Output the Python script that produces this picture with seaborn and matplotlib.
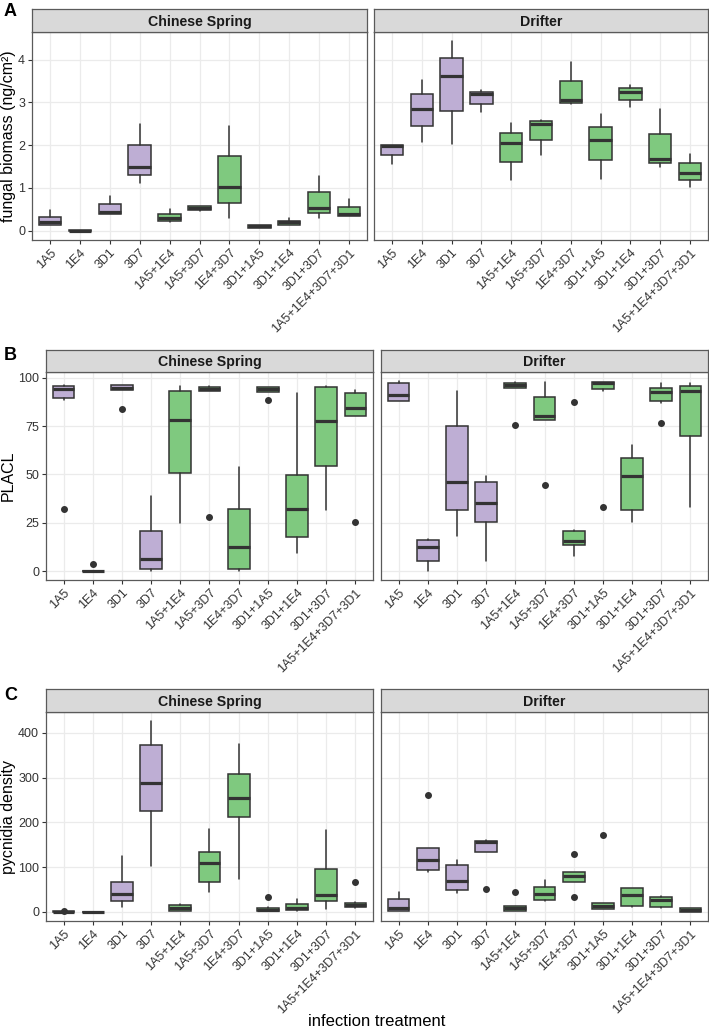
import matplotlib
matplotlib.use("Agg")
import matplotlib.pyplot as plt
import matplotlib.transforms as mtransforms
import seaborn as sns

sns.set_theme(style="whitegrid")
plt.rcParams['font.family'] = ['Liberation Sans', 'DejaVu Sans']

# treatments on the x axis
treatments = ["1A5", "1E4", "3D1", "3D7", "1A5+1E4", "1A5+3D7", "1E4+3D7",
              "3D1+1A5", "3D1+1E4", "3D1+3D7", "1A5+1E4+3D7+3D1"]
cultivars = ["Chinese Spring", "Drifter"]
n_single = 4  # first four are single isolates

# box summaries: (whisker low, q1, median, q3, whisker high)
biomass_cs = [(0.13, 0.14, 0.19, 0.33, 0.49), (0.0, 0.0, 0.0, 0.01, 0.01),
              (0.39, 0.40, 0.43, 0.62, 0.80), (1.11, 1.30, 1.50, 2.00, 2.50),
              (0.20, 0.23, 0.30, 0.40, 0.51), (0.46, 0.49, 0.53, 0.57, 0.58),
              (0.29, 0.65, 1.01, 1.74, 2.44), (0.07, 0.07, 0.10, 0.13, 0.14),
              (0.14, 0.14, 0.19, 0.23, 0.29), (0.30, 0.41, 0.52, 0.90, 1.27),
              (0.34, 0.35, 0.39, 0.56, 0.75)]
biomass_cs_out = [[] for _ in treatments]
biomass_dr = [(1.55, 1.76, 1.97, 2.00, 2.00), (2.08, 2.46, 2.85, 3.19, 3.53),
              (2.02, 2.80, 3.61, 4.03, 4.45), (2.77, 2.97, 3.19, 3.24, 3.30),
              (1.18, 1.61, 2.05, 2.29, 2.52), (1.77, 2.12, 2.50, 2.56, 2.60),
              (2.96, 2.99, 3.05, 3.50, 3.94), (1.21, 1.65, 2.13, 2.43, 2.72),
              (2.89, 3.06, 3.24, 3.34, 3.42), (1.50, 1.58, 1.68, 2.27, 2.85),
              (1.02, 1.19, 1.36, 1.59, 1.80)]
biomass_dr_out = [[] for _ in treatments]

placl_cs = [(88.5, 89.5, 94.3, 95.7, 96.2), (0.0, 0.0, 0.0, 0.3, 0.3),
            (93.4, 93.5, 94.7, 96.0, 96.2), (0.3, 1.0, 6.2, 20.8, 39.0),
            (25.1, 50.6, 78.0, 93.3, 95.7), (93.1, 93.3, 94.3, 95.3, 95.5),
            (0.3, 1.4, 12.7, 32.4, 53.7), (92.4, 92.6, 94.0, 95.0, 95.0),
            (9.6, 17.6, 32.2, 49.6, 92.3), (31.5, 54.2, 77.8, 95.3, 95.5),
            (80.0, 80.4, 84.2, 92.3, 93.6)]
placl_cs_out = [[32.2], [3.6], [84.0], [], [], [28.2], [], [88.6], [], [], [25.5]]
placl_dr = [(88.0, 88.0, 91.2, 97.1, 98.3), (0.2, 5.2, 12.6, 16.4, 16.5),
            (18.4, 31.8, 46.0, 74.9, 93.0), (5.2, 25.6, 35.5, 46.0, 49.2),
            (94.7, 94.7, 96.0, 97.1, 97.6), (78.0, 78.3, 80.4, 89.8, 97.6),
            (8.1, 13.8, 15.8, 20.8, 21.5), (93.3, 94.0, 97.1, 97.5, 97.6),
            (25.5, 31.5, 49.2, 58.5, 65.1), (86.7, 87.8, 92.6, 94.8, 97.1),
            (33.4, 70.1, 93.3, 95.9, 97.1)]
placl_dr_out = [[], [], [], [], [75.4], [44.6], [87.4], [33.2], [], [76.4], []]

pycnidia_cs = [(0.0, 0.0, 0.3, 1.0, 1.0), (0.0, 0.0, 0.0, 0.2, 0.2),
               (11.2, 23.1, 39.5, 65.5, 124.4), (103, 225, 288, 374, 426),
               (1.5, 1.5, 7.4, 14.9, 17.9), (44.7, 65.5, 108, 132.6, 184.7),
               (73, 211.5, 255.5, 309, 374.7), (0.7, 0.7, 3.0, 8.9, 9.7),
               (2.2, 4.5, 8.9, 16.4, 29), (6.7, 24.6, 37.2, 96, 182.5),
               (7.4, 11.2, 15.6, 19.4, 21.6)]
pycnidia_cs_out = [[1.5], [], [], [], [], [], [], [32.8], [], [], [65.5]]
pycnidia_dr = [(2.2, 2.2, 8.2, 28.3, 43.2), (87.9, 93.9, 115.5, 143, 143),
               (42.5, 47.7, 67.8, 105, 114.7), (133.3, 133.3, 156.4, 158.7, 159.6),
               (1.5, 1.5, 7.4, 13.4, 13.4), (24.6, 26.1, 38.7, 55.1, 70),
               (65.5, 65.5, 80.4, 87.9, 87.9), (5.2, 5.2, 13.4, 20.1, 20.1),
               (10.4, 13.4, 38, 52.9, 52.9), (8.9, 10.4, 25.3, 33.5, 35),
               (0.0, 0.0, 3.7, 7.4, 7.4)]
pycnidia_dr_out = [[], [261.5], [], [49.9], [44.7], [], [128.9, 32], [172], [], [], []]

purple = "#BEAED4"
green = "#7FC97F"
dark = "#333333"
border = "#5A5A5A"

W, H = 709, 1030
fig = plt.figure(figsize=(W / 100, H / 100), dpi=100)


def px_axes(x0, y0, x1, y1):
    return fig.add_axes([x0 / W, 1 - y1 / H, (x1 - x0) / W, (y1 - y0) / H])


def draw_panel(x0, x1, ytop, ybot, strip_top, stats, outs, ylim, yticks, title, first):
    ax = px_axes(x0, ytop, x1, ybot)
    boxes = []
    for i, (lo, q1, med, q3, hi) in enumerate(stats):
        boxes.append(dict(whislo=lo, q1=q1, med=med, q3=q3, whishi=hi,
                          fliers=outs[i], label=treatments[i]))
    art = ax.bxp(boxes, positions=list(range(len(boxes))), widths=0.75,
                 patch_artist=True, showcaps=False,
                 boxprops=dict(edgecolor=dark, linewidth=1.1),
                 whiskerprops=dict(color=dark, linewidth=1.1),
                 medianprops=dict(color=dark, linewidth=2.3, solid_capstyle="butt"),
                 flierprops=dict(marker="o", markerfacecolor=dark,
                                 markeredgecolor=dark, markersize=4))
    for i, patch in enumerate(art["boxes"]):
        patch.set_facecolor(purple if i < n_single else green)
        patch.set_zorder(2)
    ax.set_xlim(-0.6, len(treatments) - 0.4)
    ax.set_ylim(*ylim)
    ax.set_yticks(yticks)
    ax.set_xticks(range(len(treatments)))
    ax.set_xticklabels(treatments, rotation=45, ha="right", va="top",
                       rotation_mode="anchor", fontsize=9, color=dark)
    shift = mtransforms.ScaledTranslation(5 / 100, -1 / 100, fig.dpi_scale_trans)
    for lab in ax.get_xticklabels():
        lab.set_transform(lab.get_transform() + shift)
    ax.grid(True, color="#EBEBEB", linewidth=0.9)
    ax.set_axisbelow(True)
    ax.set_facecolor("white")
    for s in ax.spines.values():
        s.set_visible(True)
        s.set_color(border)
        s.set_linewidth(0.9)
    ax.tick_params(axis="x", bottom=True, length=3, width=0.8, color=dark, pad=2)
    if first:
        ax.tick_params(axis="y", left=True, length=3, width=0.8, color=dark,
                       labelsize=9, labelcolor=dark, pad=2)
    else:
        ax.tick_params(axis="y", left=False, labelleft=False)
    ax.set_xlabel("")
    ax.set_ylabel("")

    st = px_axes(x0, strip_top, x1, ytop)
    st.set_facecolor("#D9D9D9")
    st.set_xticks([])
    st.set_yticks([])
    st.grid(False)
    for s in st.spines.values():
        s.set_visible(True)
        s.set_color(border)
        s.set_linewidth(0.9)
    st.text(0.5, 0.45, title, ha="center", va="center", fontsize=10.2,
            fontweight="bold", color="#1A1A1A", transform=st.transAxes)
    return ax


rows = [
    dict(xs=[(32, 367), (374, 708)], ytop=32, ybot=240, strip=9,
         data=[(biomass_cs, biomass_cs_out), (biomass_dr, biomass_dr_out)],
         ylim=(-0.22, 4.65), yticks=[0, 1, 2, 3, 4],
         ylabel="fungal biomass (ng/cm²)", ylab_x=9, letter="A", letter_y=12),
    dict(xs=[(46, 373), (381, 708)], ytop=372, ybot=580, strip=350,
         data=[(placl_cs, placl_cs_out), (placl_dr, placl_dr_out)],
         ylim=(-4.5, 102.9), yticks=[0, 25, 50, 75, 100],
         ylabel="PLACL", ylab_x=8, letter="B", letter_y=356),
    dict(xs=[(46, 373), (381, 708)], ytop=712, ybot=921, strip=689,
         data=[(pycnidia_cs, pycnidia_cs_out), (pycnidia_dr, pycnidia_dr_out)],
         ylim=(-20.8, 447), yticks=[0, 100, 200, 300, 400],
         ylabel="pycnidia density", ylab_x=9, letter="C", letter_y=695),
]

for row in rows:
    for j, ((x0, x1), (stats, outs)) in enumerate(zip(row["xs"], row["data"])):
        draw_panel(x0, x1, row["ytop"], row["ybot"], row["strip"], stats, outs,
                   row["ylim"], row["yticks"], cultivars[j], j == 0)
    fig.text(row["ylab_x"] / W, 1 - (row["ytop"] + row["ybot"]) / 2 / H, row["ylabel"],
             rotation=90, ha="center", va="center", fontsize=11.5, color="black")
    fig.text(4 / W, 1 - row["letter_y"] / H, row["letter"], ha="left", va="center",
             fontsize=13, fontweight="bold", color="black")

fig.text(377 / W, 1 - 1021 / H, "infection treatment", ha="center", va="center",
         fontsize=12, color="black")

fig.savefig("out.png", dpi=100, facecolor="white")
